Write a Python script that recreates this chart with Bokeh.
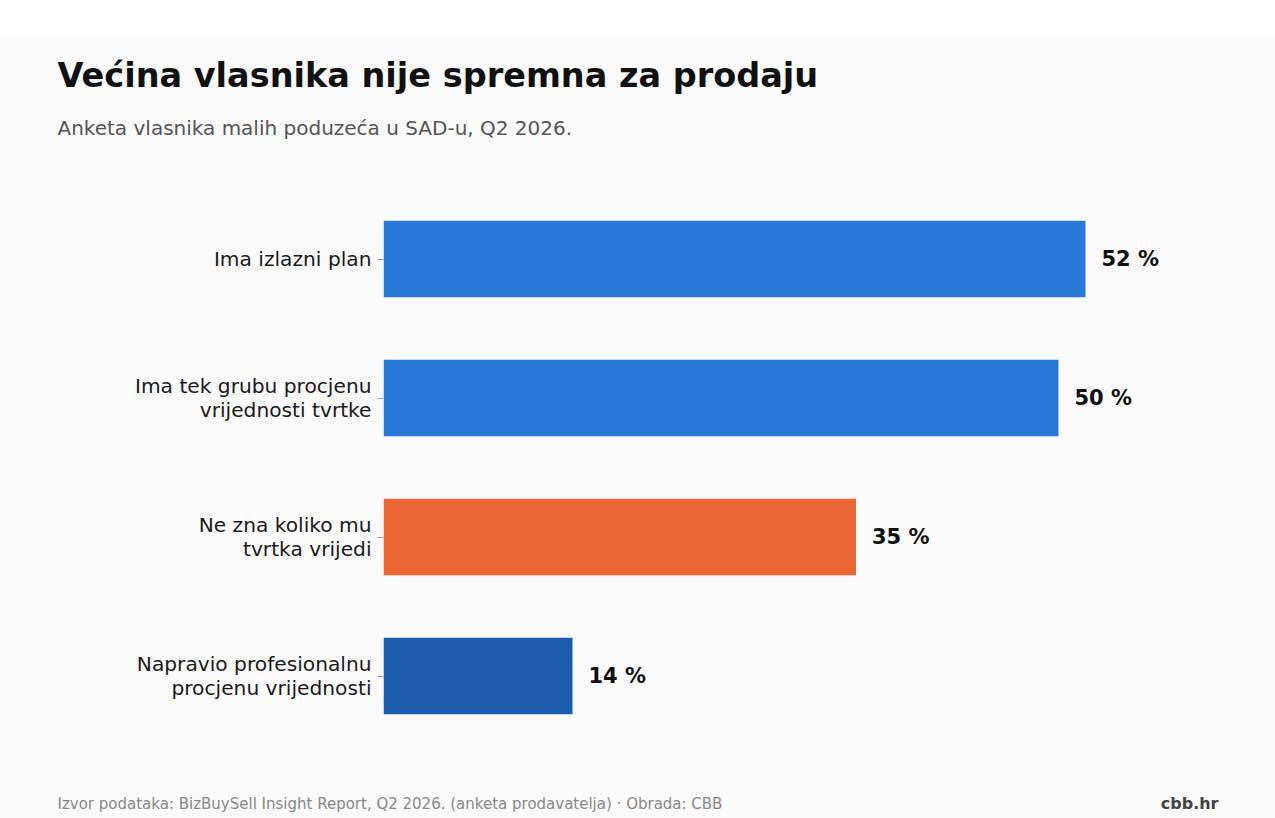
import numpy as np
from bokeh.plotting import figure
from bokeh.models import ColumnDataSource, Range1d, FactorRange, Label, Spacer
from bokeh.layouts import column
from bokeh.core.properties import value
from bokeh.embed import file_html
from bokeh.resources import INLINE

# data
categories = ["Ima izlazni plan",
              "Ima tek grubu procjenu\nvrijednosti tvrtke",
              "Ne zna koliko mu\ntvrtka vrijedi",
              "Napravio profesionalnu\nprocjenu vrijednosti"]
values = [52, 50, 35, 14]
colors = ["#2A78D6", "#2A78D6", "#EB6836", "#1B5DAA"]
value_labels = ["%d %%" % v for v in values]

title = "Većina vlasnika nije spremna za prodaju"
subtitle = "Anketa vlasnika malih poduzeća u SAD-u, Q2 2026."
source_note = "Izvor podataka: BizBuySell Insight Report, Q2 2026. (anketa prodavatelja) · Obrada: CBB"
brand = "cbb.hr"

FONT = "DejaVu Sans"
BG = "#fafafa"
W = 1275
TOP_H, CHART_H, FOOT_H = 153, 556, 73


def text_strip(height):
    # a bare figure whose frame is the whole canvas, y measured from the top
    f = figure(width=W, height=height, output_backend="svg", toolbar_location=None,
               x_range=Range1d(0, W), y_range=Range1d(height, 0),
               x_axis_type=None, y_axis_type=None, min_border=0, frame_align=False)
    f.title.visible = False
    f.background_fill_color = BG
    f.border_fill_color = BG
    f.outline_line_color = None
    f.grid.visible = False
    return f


# header
top = text_strip(TOP_H)
top.add_layout(Label(x=57, y=39, text=title, text_font=FONT, text_font_size="33.5px",
                     text_font_style="bold", text_color="#111111", text_baseline="alphabetic"))
top.add_layout(Label(x=57, y=91, text=subtitle, text_font=FONT, text_font_size="20px",
                     text_color="#555555", text_baseline="alphabetic"))

# chart
p = figure(width=W, height=CHART_H, output_backend="svg", toolbar_location=None,
           x_range=Range1d(0, 62), y_range=FactorRange(factors=categories[::-1]),
           min_border_left=383, min_border_right=55,
           min_border_top=0, min_border_bottom=0, frame_align=False)
p.title.visible = False
p.background_fill_color = BG
p.border_fill_color = BG
p.outline_line_color = None
p.xgrid.visible = False
p.ygrid.visible = False
p.xaxis.visible = False
p.y_range.range_padding = 0

yax = p.yaxis[0]
yax.axis_line_color = None
yax.major_tick_line_color = "#999999"
yax.major_tick_out = 6
yax.major_tick_in = 0
yax.minor_tick_line_color = None
yax.major_label_standoff = 6
yax.major_label_text_font = FONT
yax.major_label_text_font_size = "20.2px"
yax.major_label_text_color = "#1a1a1a"
yax.major_label_text_line_height = 1.0

src = ColumnDataSource(dict(cat=categories, v=values, c=colors, lbl=value_labels))
p.hbar(y="cat", right="v", left=0, height=0.55, fill_color="c", line_color=None, source=src)
p.text(x="v", y="cat", text="lbl", x_offset=16, text_baseline="middle", text_align="left",
       text_font=value(FONT), text_font_size="21px", text_font_style="bold",
       text_color="#111111", source=src)

# footer
foot = text_strip(FOOT_H)
foot.add_layout(Label(x=57, y=58, text=source_note, text_font=FONT, text_font_size="15px",
                      text_color="#888888", text_baseline="middle"))
foot.add_layout(Label(x=1218, y=58, text=brand, text_font=FONT, text_font_size="16px",
                      text_font_style="bold", text_color="#444444",
                      text_baseline="middle", text_align="right"))

layout = column(Spacer(width=W, height=36, styles={"background-color": "white"}),
                top, p, foot, spacing=0, styles={"background-color": BG})
open("out.html", "w").write(file_html(layout, INLINE))
